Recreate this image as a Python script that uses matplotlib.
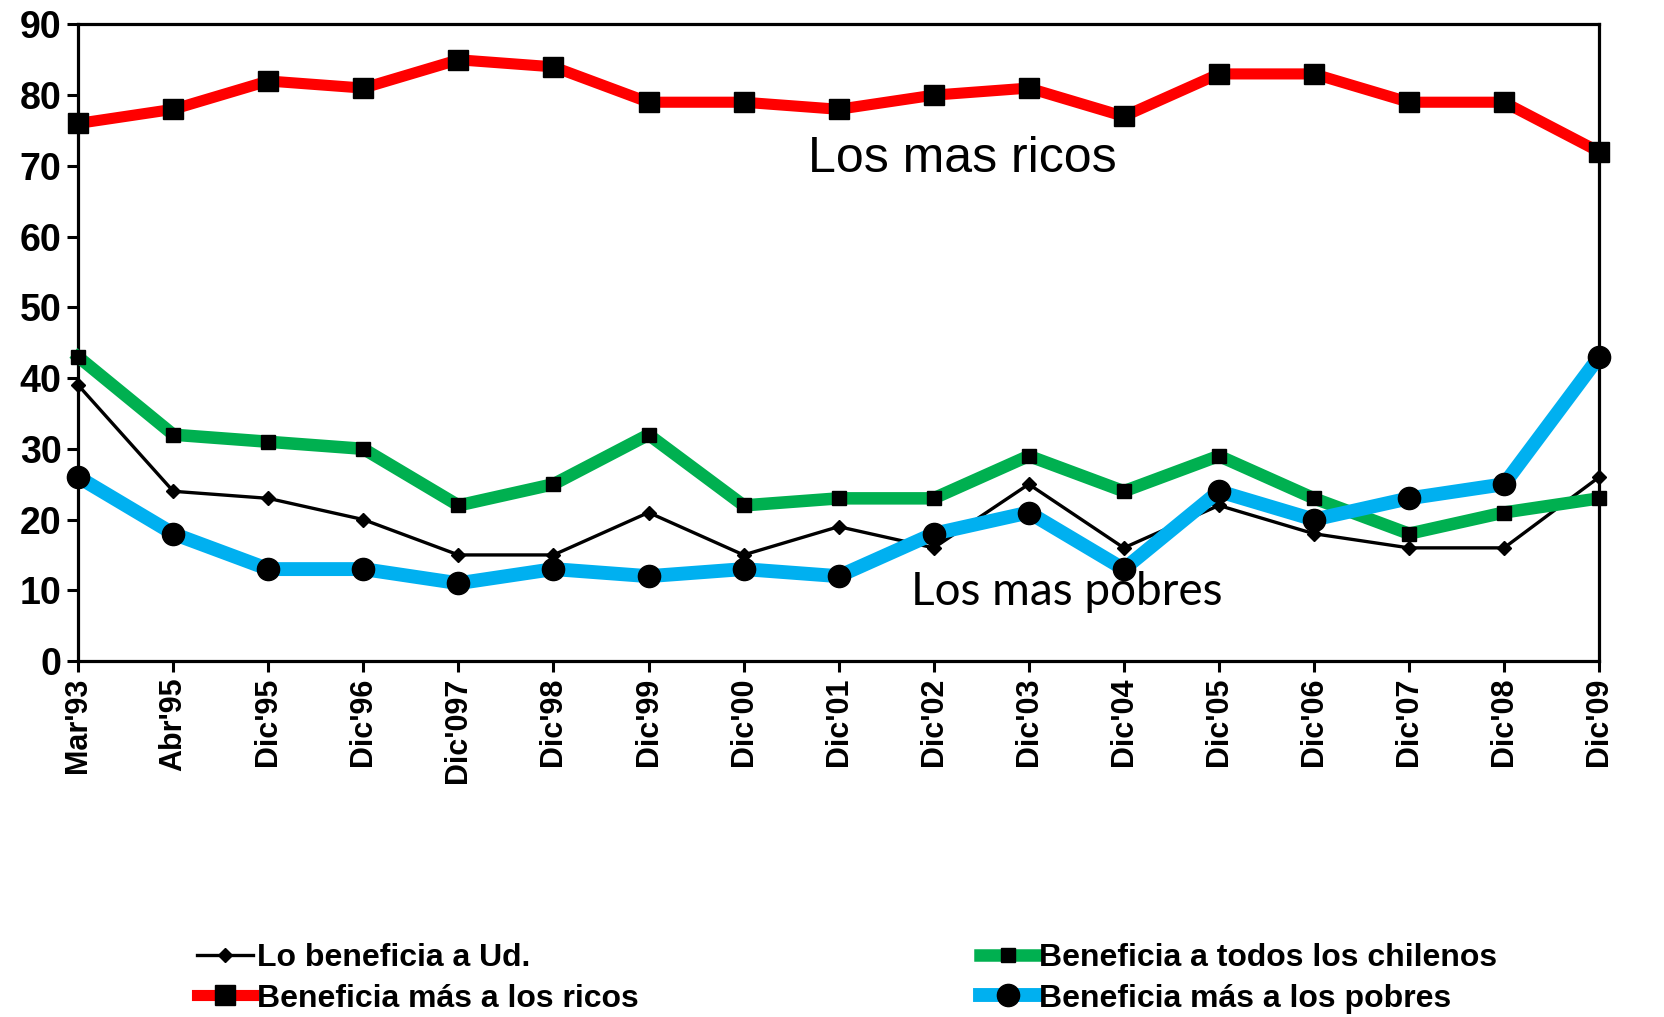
import numpy as np
import matplotlib
matplotlib.use("Agg")
from matplotlib import pyplot as plt

# survey waves
fechas = ["Mar'93", "Abr'95", "Dic'95", "Dic'96", "Dic'097", "Dic'98", "Dic'99", "Dic'00",
          "Dic'01", "Dic'02", "Dic'03", "Dic'04", "Dic'05", "Dic'06", "Dic'07", "Dic'08", "Dic'09"]

lo_beneficia_ud = [39, 24, 23, 20, 15, 15, 21, 15, 19, 16, 25, 16, 22, 18, 16, 16, 26]
mas_ricos = [76, 78, 82, 81, 85, 84, 79, 79, 78, 80, 81, 77, 83, 83, 79, 79, 72]
todos_chilenos = [43, 32, 31, 30, 22, 25, 32, 22, 23, 23, 29, 24, 29, 23, 18, 21, 23]
mas_pobres = [26, 18, 13, 13, 11, 13, 12, 13, 12, 18, 21, 13, 24, 20, 23, 25, 43]

y_ticks = list(range(0, 100, 10))

plt.rcParams['font.family'] = ['Liberation Sans', 'DejaVu Sans']

fig = plt.figure(figsize=(16.64, 10.17), dpi=100)
ax = fig.add_axes([0.047, 0.350, 0.914, 0.626])

x = np.arange(len(fechas))

ax.plot(x, lo_beneficia_ud, color='black', lw=2.4, marker='D', ms=7,
        mfc='black', mec='black', zorder=2, label='Lo beneficia a Ud.')
ax.plot(x, mas_ricos, color='#FF0000', lw=8, marker='s', ms=15,
        mfc='black', mec='black', zorder=3, label='Beneficia más a los ricos')
ax.plot(x, todos_chilenos, color='#00B050', lw=9, marker='s', ms=10,
        mfc='black', mec='black', zorder=3, label='Beneficia a todos los chilenos')
ax.plot(x, mas_pobres, color='#00B0F0', lw=10, marker='o', ms=16,
        mfc='black', mec='black', zorder=4, label='Beneficia más a los pobres')

ax.set_xlim(0, len(fechas) - 1)
ax.set_ylim(0, 90)
ax.set_yticks(y_ticks)
ax.set_yticklabels([str(v) for v in y_ticks], fontsize=27, fontweight='bold')
ax.set_xticks(x)
ax.set_xticklabels(fechas, rotation=90, fontsize=22, fontweight='bold')

for s in ax.spines.values():
    s.set_linewidth(2.3)
ax.tick_params(axis='both', direction='out', length=8, width=2.2, pad=4)
for line in ax.get_lines():
    line.set_clip_on(False)

ax.text(9.3, 71, "Los mas ricos", fontsize=36, ha='center', va='center',
        family=['Liberation Sans', 'DejaVu Sans'])
ax.text(10.4, 9.8, "Los mas pobres", fontsize=33, ha='center', va='center',
        family=['Lato', 'DejaVu Sans'])

handles, labels = ax.get_legend_handles_labels()
fig.legend(handles, labels, ncol=2, loc='upper left', bbox_to_anchor=(0.111, 0.085),
           frameon=False, prop={'weight': 'bold', 'size': 23},
           handlelength=1.75, handletextpad=0.1, columnspacing=10.7,
           labelspacing=0.32, borderaxespad=0)

fig.savefig("out.png", dpi=100)
